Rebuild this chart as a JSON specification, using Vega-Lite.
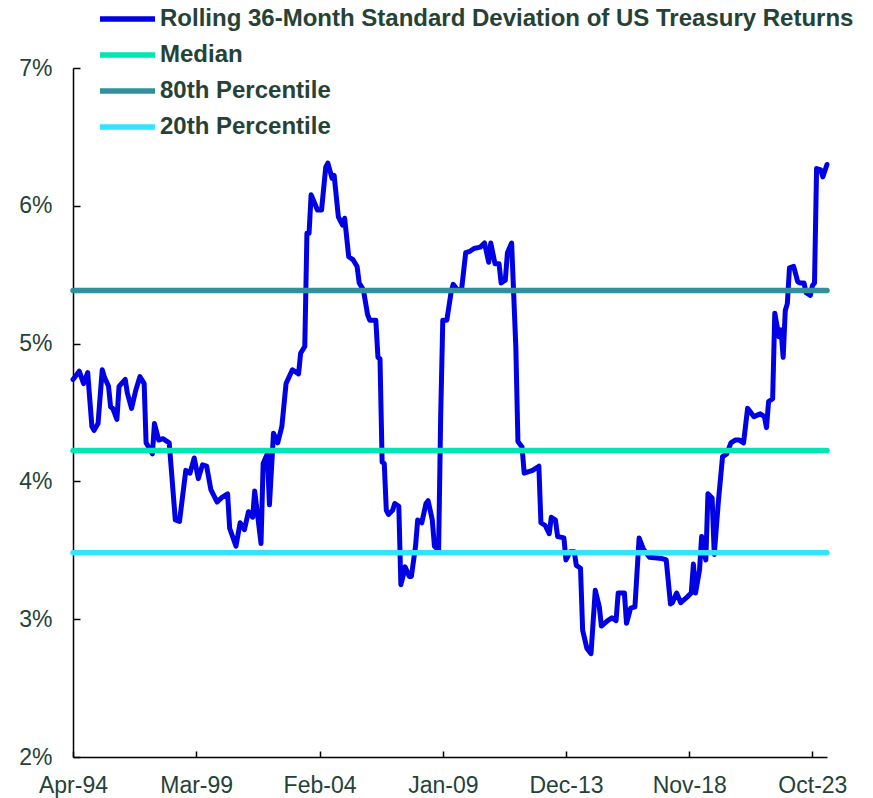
{
  "$schema": "https://vega.github.io/schema/vega-lite/v6.json",
  "width": 754,
  "height": 689,
  "autosize": "none",
  "padding": {"left": 73, "top": 68, "right": 46, "bottom": 41},
  "background": "white",
  "config": {
    "view": {"stroke": null},
    "font": "Liberation Sans",
    "axis": {"grid": false, "domainColor": "#000000", "domainWidth": 1.5, "tickColor": "#000000", "tickWidth": 1.5, "labelColor": "#244236", "labelFont": "Liberation Sans", "labelFontSize": 23, "title": null}
  },
  "datasets": {
    "vol": [
      {"date": "1994-04-01", "value": 4.74},
      {"date": "1994-07-01", "value": 4.80},
      {"date": "1994-09-01", "value": 4.71},
      {"date": "1994-11-01", "value": 4.79},
      {"date": "1995-01-01", "value": 4.40},
      {"date": "1995-02-01", "value": 4.37},
      {"date": "1995-04-01", "value": 4.42},
      {"date": "1995-06-01", "value": 4.81},
      {"date": "1995-07-01", "value": 4.76},
      {"date": "1995-09-01", "value": 4.69},
      {"date": "1995-10-01", "value": 4.54},
      {"date": "1995-11-01", "value": 4.53},
      {"date": "1996-01-01", "value": 4.45},
      {"date": "1996-02-01", "value": 4.69},
      {"date": "1996-05-01", "value": 4.74},
      {"date": "1996-06-01", "value": 4.64},
      {"date": "1996-08-01", "value": 4.53},
      {"date": "1996-10-01", "value": 4.66},
      {"date": "1996-12-01", "value": 4.76},
      {"date": "1997-02-01", "value": 4.71},
      {"date": "1997-03-01", "value": 4.28},
      {"date": "1997-06-01", "value": 4.20},
      {"date": "1997-07-01", "value": 4.42},
      {"date": "1997-09-01", "value": 4.30},
      {"date": "1997-11-01", "value": 4.31},
      {"date": "1998-02-01", "value": 4.28},
      {"date": "1998-05-01", "value": 3.72},
      {"date": "1998-07-01", "value": 3.71},
      {"date": "1998-10-01", "value": 4.08},
      {"date": "1998-12-01", "value": 4.06},
      {"date": "1999-02-01", "value": 4.17},
      {"date": "1999-04-01", "value": 4.02},
      {"date": "1999-06-01", "value": 4.12},
      {"date": "1999-08-01", "value": 4.11},
      {"date": "1999-10-01", "value": 3.94},
      {"date": "2000-01-01", "value": 3.85},
      {"date": "2000-03-01", "value": 3.88},
      {"date": "2000-06-01", "value": 3.91},
      {"date": "2000-07-01", "value": 3.66},
      {"date": "2000-10-01", "value": 3.53},
      {"date": "2000-12-01", "value": 3.70},
      {"date": "2001-02-01", "value": 3.65},
      {"date": "2001-04-01", "value": 3.78},
      {"date": "2001-06-01", "value": 3.74},
      {"date": "2001-07-01", "value": 3.93},
      {"date": "2001-10-01", "value": 3.55},
      {"date": "2001-11-01", "value": 4.13},
      {"date": "2002-01-01", "value": 4.20},
      {"date": "2002-02-01", "value": 3.83},
      {"date": "2002-04-01", "value": 4.35},
      {"date": "2002-06-01", "value": 4.28},
      {"date": "2002-08-01", "value": 4.40},
      {"date": "2002-10-01", "value": 4.71},
      {"date": "2003-01-01", "value": 4.81},
      {"date": "2003-04-01", "value": 4.78},
      {"date": "2003-05-01", "value": 4.93},
      {"date": "2003-07-01", "value": 4.98},
      {"date": "2003-08-01", "value": 5.80},
      {"date": "2003-09-01", "value": 5.80},
      {"date": "2003-10-01", "value": 6.08},
      {"date": "2004-01-01", "value": 5.97},
      {"date": "2004-03-01", "value": 5.97},
      {"date": "2004-05-01", "value": 6.28},
      {"date": "2004-06-01", "value": 6.31},
      {"date": "2004-08-01", "value": 6.20},
      {"date": "2004-09-01", "value": 6.22},
      {"date": "2004-11-01", "value": 5.92},
      {"date": "2005-01-01", "value": 5.86},
      {"date": "2005-02-01", "value": 5.91},
      {"date": "2005-04-01", "value": 5.63},
      {"date": "2005-06-01", "value": 5.61},
      {"date": "2005-08-01", "value": 5.56},
      {"date": "2005-09-01", "value": 5.44},
      {"date": "2005-11-01", "value": 5.39},
      {"date": "2006-01-01", "value": 5.21},
      {"date": "2006-02-01", "value": 5.17},
      {"date": "2006-05-01", "value": 5.17},
      {"date": "2006-06-01", "value": 4.90},
      {"date": "2006-07-01", "value": 4.89},
      {"date": "2006-08-01", "value": 4.14},
      {"date": "2006-09-01", "value": 4.13},
      {"date": "2006-10-01", "value": 3.79},
      {"date": "2006-11-01", "value": 3.76},
      {"date": "2007-01-01", "value": 3.79},
      {"date": "2007-02-01", "value": 3.84},
      {"date": "2007-04-01", "value": 3.82},
      {"date": "2007-05-01", "value": 3.25},
      {"date": "2007-06-01", "value": 3.31},
      {"date": "2007-07-01", "value": 3.38},
      {"date": "2007-09-01", "value": 3.31},
      {"date": "2007-10-01", "value": 3.31},
      {"date": "2007-12-01", "value": 3.53},
      {"date": "2008-01-01", "value": 3.72},
      {"date": "2008-03-01", "value": 3.70},
      {"date": "2008-05-01", "value": 3.84},
      {"date": "2008-06-01", "value": 3.86},
      {"date": "2008-08-01", "value": 3.72},
      {"date": "2008-09-01", "value": 3.53},
      {"date": "2008-11-01", "value": 3.50},
      {"date": "2008-12-01", "value": 4.47},
      {"date": "2009-01-01", "value": 5.17},
      {"date": "2009-03-01", "value": 5.17},
      {"date": "2009-05-01", "value": 5.37},
      {"date": "2009-06-01", "value": 5.43},
      {"date": "2009-08-01", "value": 5.39},
      {"date": "2009-10-01", "value": 5.39},
      {"date": "2009-12-01", "value": 5.66},
      {"date": "2010-02-01", "value": 5.67},
      {"date": "2010-04-01", "value": 5.69},
      {"date": "2010-07-01", "value": 5.70},
      {"date": "2010-09-01", "value": 5.73},
      {"date": "2010-11-01", "value": 5.59},
      {"date": "2010-12-01", "value": 5.73},
      {"date": "2011-02-01", "value": 5.58},
      {"date": "2011-04-01", "value": 5.58},
      {"date": "2011-05-01", "value": 5.44},
      {"date": "2011-07-01", "value": 5.46},
      {"date": "2011-08-01", "value": 5.66},
      {"date": "2011-10-01", "value": 5.73},
      {"date": "2011-12-01", "value": 4.98},
      {"date": "2012-01-01", "value": 4.29},
      {"date": "2012-03-01", "value": 4.25},
      {"date": "2012-04-01", "value": 4.06},
      {"date": "2012-08-01", "value": 4.08},
      {"date": "2012-11-01", "value": 4.11},
      {"date": "2012-12-01", "value": 3.70},
      {"date": "2013-02-01", "value": 3.68},
      {"date": "2013-04-01", "value": 3.62},
      {"date": "2013-05-01", "value": 3.74},
      {"date": "2013-07-01", "value": 3.72},
      {"date": "2013-08-01", "value": 3.60},
      {"date": "2013-11-01", "value": 3.59},
      {"date": "2013-12-01", "value": 3.43},
      {"date": "2014-02-01", "value": 3.49},
      {"date": "2014-04-01", "value": 3.49},
      {"date": "2014-05-01", "value": 3.39},
      {"date": "2014-07-01", "value": 3.37},
      {"date": "2014-08-01", "value": 2.92},
      {"date": "2014-10-01", "value": 2.79},
      {"date": "2014-12-01", "value": 2.75},
      {"date": "2015-02-01", "value": 3.21},
      {"date": "2015-04-01", "value": 3.09},
      {"date": "2015-05-01", "value": 2.95},
      {"date": "2015-08-01", "value": 2.99},
      {"date": "2015-10-01", "value": 3.01},
      {"date": "2015-12-01", "value": 2.99},
      {"date": "2016-01-01", "value": 3.19},
      {"date": "2016-04-01", "value": 3.19},
      {"date": "2016-05-01", "value": 2.97},
      {"date": "2016-07-01", "value": 3.08},
      {"date": "2016-09-01", "value": 3.09},
      {"date": "2016-11-01", "value": 3.59},
      {"date": "2017-01-01", "value": 3.51},
      {"date": "2017-04-01", "value": 3.45},
      {"date": "2017-10-01", "value": 3.44},
      {"date": "2017-12-01", "value": 3.43},
      {"date": "2018-02-01", "value": 3.11},
      {"date": "2018-03-01", "value": 3.12},
      {"date": "2018-05-01", "value": 3.19},
      {"date": "2018-07-01", "value": 3.12},
      {"date": "2018-10-01", "value": 3.16},
      {"date": "2018-12-01", "value": 3.19},
      {"date": "2019-01-01", "value": 3.40},
      {"date": "2019-02-01", "value": 3.19},
      {"date": "2019-04-01", "value": 3.36},
      {"date": "2019-05-01", "value": 3.60},
      {"date": "2019-07-01", "value": 3.43},
      {"date": "2019-08-01", "value": 3.91},
      {"date": "2019-10-01", "value": 3.88},
      {"date": "2019-11-01", "value": 3.47},
      {"date": "2020-01-01", "value": 3.86},
      {"date": "2020-03-01", "value": 4.18},
      {"date": "2020-05-01", "value": 4.20},
      {"date": "2020-07-01", "value": 4.28},
      {"date": "2020-09-01", "value": 4.30},
      {"date": "2020-11-01", "value": 4.30},
      {"date": "2021-01-01", "value": 4.28},
      {"date": "2021-03-01", "value": 4.53},
      {"date": "2021-06-01", "value": 4.47},
      {"date": "2021-09-01", "value": 4.49},
      {"date": "2021-11-01", "value": 4.47},
      {"date": "2021-12-01", "value": 4.39},
      {"date": "2022-01-01", "value": 4.58},
      {"date": "2022-03-01", "value": 4.60},
      {"date": "2022-04-01", "value": 5.22},
      {"date": "2022-06-01", "value": 5.05},
      {"date": "2022-07-01", "value": 5.10},
      {"date": "2022-08-01", "value": 4.90},
      {"date": "2022-09-01", "value": 5.24},
      {"date": "2022-10-01", "value": 5.29},
      {"date": "2022-11-01", "value": 5.55},
      {"date": "2023-01-01", "value": 5.56},
      {"date": "2023-03-01", "value": 5.45},
      {"date": "2023-04-01", "value": 5.44},
      {"date": "2023-06-01", "value": 5.44},
      {"date": "2023-07-01", "value": 5.37},
      {"date": "2023-09-01", "value": 5.35},
      {"date": "2023-10-01", "value": 5.42},
      {"date": "2023-11-01", "value": 5.44},
      {"date": "2023-12-01", "value": 6.27},
      {"date": "2024-02-01", "value": 6.26},
      {"date": "2024-03-01", "value": 6.21},
      {"date": "2024-05-01", "value": 6.30}
    ],
    "levels": [
      {"series": "Median", "value": 4.225},
      {"series": "80th Percentile", "value": 5.386},
      {"series": "20th Percentile", "value": 3.482}
    ]
  },
  "layer": [
    {
      "data": {"name": "vol"},
      "transform": [{"calculate": "'Rolling 36-Month Standard Deviation of US Treasury Returns'", "as": "series"}],
      "mark": {"type": "line", "strokeWidth": 5, "strokeJoin": "round", "strokeCap": "round"},
      "encoding": {
        "x": {
          "field": "date", "type": "temporal",
          "scale": {"type": "utc", "domain": [{"year": 1994, "month": 4, "date": 1, "utc": true}, {"year": 2024, "month": 5, "date": 1, "utc": true}], "nice": false},
          "axis": {
            "values": [
              {"year": 1994, "month": 4, "date": 1, "utc": true},
              {"year": 1999, "month": 3, "date": 1, "utc": true},
              {"year": 2004, "month": 2, "date": 1, "utc": true},
              {"year": 2009, "month": 1, "date": 1, "utc": true},
              {"year": 2013, "month": 12, "date": 1, "utc": true},
              {"year": 2018, "month": 11, "date": 1, "utc": true},
              {"year": 2023, "month": 10, "date": 1, "utc": true}
            ],
            "format": "%b-%y", "tickSize": -6, "labelPadding": 23, "labelFlush": false, "labelOverlap": false
          }
        },
        "y": {
          "field": "value", "type": "quantitative",
          "scale": {"domain": [2, 7], "nice": false},
          "axis": {"values": [2, 3, 4, 5, 6, 7], "format": ".0f", "labelExpr": "datum.label + '%'", "tickSize": -7, "labelPadding": 28}
        },
        "color": {
          "field": "series", "type": "nominal",
          "scale": {
            "domain": ["Rolling 36-Month Standard Deviation of US Treasury Returns", "Median", "80th Percentile", "20th Percentile"],
            "range": ["#0000E6", "#00E6B2", "#31909B", "#35E2FF"]
          },
          "legend": {
            "title": null, "orient": "none", "legendX": 24, "legendY": -59,
            "symbolType": "stroke", "symbolSize": 3025, "symbolStrokeWidth": 5.5,
            "clipHeight": 20, "rowPadding": 12, "labelOffset": 2, "padding": 0,
            "labelFont": "Liberation Sans", "labelFontSize": 24, "labelFontWeight": "bold", "labelColor": "#244236", "labelLimit": 0
          }
        }
      }
    },
    {
      "data": {"name": "levels"},
      "mark": {"type": "rule", "strokeWidth": 5.5, "strokeCap": "round"},
      "encoding": {
        "y": {"field": "value", "type": "quantitative"},
        "color": {"field": "series", "type": "nominal"}
      }
    }
  ]
}
